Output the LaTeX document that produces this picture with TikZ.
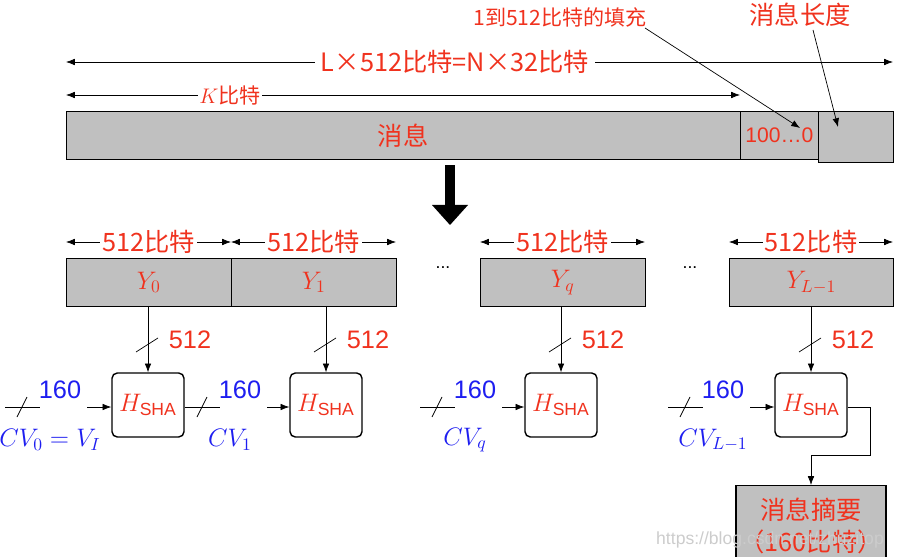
\documentclass[tikz,border=0pt]{standalone}
\usepackage{fontspec}
\setmainfont{Liberation Sans}
\newfontfamily\cjk{Noto Sans CJK SC}
\usetikzlibrary{arrows.meta}
\definecolor{txtred}{RGB}{240,50,30}
\definecolor{txtblue}{RGB}{30,30,240}
\definecolor{barfill}{RGB}{192,192,192}
\begin{document}
\begin{tikzpicture}[x=0.02cm,y=-0.02cm,
    bar/.style={draw, fill=barfill, minimum height=0.96cm, inner sep=0pt, anchor=north west},
    hbox/.style={draw, thick, rounded corners=3pt, minimum width=1.44cm, minimum height=1.28cm, fill=white},
    red/.style={text=txtred, font=\cjk},
    blue/.style={text=txtblue},
    arr/.style={-{Latex[length=5pt]}},
    dim/.style={{Latex[length=5pt]}-{Latex[length=5pt]}}]
\useasboundingbox (0,0) rectangle (899,557);
% top dimensions
\draw[dim] (66,62) -- (893,62);
\node[red, fill=white, font=\cjk\Large] (ltot) at (455,62) {L×512比特=N×32比特};
\draw[dim] (66,95) -- (740,95);
\node[red, fill=white, font=\cjk\large, inner sep=1pt] (klen) at (230,95) {$K$比特};
% message bar
\node[bar, minimum width=13.48cm] (msg) at (66,111) {};
\node[red, font=\cjk\Large] at (msg.center) {消息};
\node[bar, minimum width=1.56cm] (pad) at (740,111) {};
\node[red, font=\large] at (pad.center) {100…0};
\node[bar, minimum width=1.5cm, minimum height=1.02cm] (len) at (818,111) {};
\node[red, font=\cjk\large] (padlbl) at (560,17) {1到512比特的填充};
\node[red, font=\cjk\Large] (lenlbl) at (800,15) {消息长度};
\draw[arr] (645,28) -- (800,128);
\draw[arr] (813,30) -- (838,127);
% big arrow
\fill (445,165) rectangle (455,205);
\fill (432,205) -- (468,205) -- (450,225) -- cycle;
% blocks
\foreach \x/\w/\lbl/\n in {66/165/{Y_0}/0, 231/165/{Y_1}/1, 480/165/{Y_q}/2, 729/164/{Y_{L-1}}/3}{
  \node[bar, minimum width=\w*0.02cm] (blk\n) at (\x,258) {};
  \node[text=txtred, font=\Large] at (blk\n.center) {$\lbl$};
  \draw[dim] (\x,242) -- (\x+\w,242);
  \node[red, fill=white, font=\cjk\Large, inner sep=1pt] at (\x+\w/2,242) {512比特};
}
\node at (443,268) {...};
\node at (690,268) {...};
% compression boxes
\foreach \x/\n in {148/0, 326/1, 561/2, 811/3}{
  \node[hbox, font=\Large] (h\n) at (\x,405) {\textcolor{txtred}{$H_{\mathrm{SHA}}$}};
  \draw[arr] (blk\n.south -| h\n.north) -- (h\n.north);
  \draw (\x-12,352) -- (\x+10,338);
  \node[text=txtred, font=\Large] at (\x+42,340) {512};
}
\foreach \x/\n/\cv in {5/0/{CV_0=V_I}, 185/1/{CV_1}, 420/2/{CV_q}, 668/3/{CV_{L-1}}}{
  \draw (\x,407) -- (\x+35,407);
  \draw (\x+12,417) -- (\x+22,397);
  \node[blue, font=\Large] at (\x+55,390) {160};
  \draw[arr] (\x+82,407) -- (h\n.west |- 0,407);
  \node[text=txtblue, font=\Large] at (\x+45,440) {$\cv$};
}
% output
\node[draw, thick, fill=barfill, minimum width=2.38cm, minimum height=1.6cm, anchor=north, align=center, red, font=\cjk\Large, inner xsep=2pt] (dig) at (811,485) {消息摘要\\（160比特）};
\coordinate (outA) at (870,407);
\coordinate (outB) at (870,455);
\coordinate (outC) at (dig.north |- outB);
\draw[arr] (h3.east |- outA) -- (outA) -- (outB) -- (outC) -- (dig.north);
\node[text=white!60!gray] (wm) at (770,540) {https://blog.csdn.net/zhuzitop};
\end{tikzpicture}
\end{document}
